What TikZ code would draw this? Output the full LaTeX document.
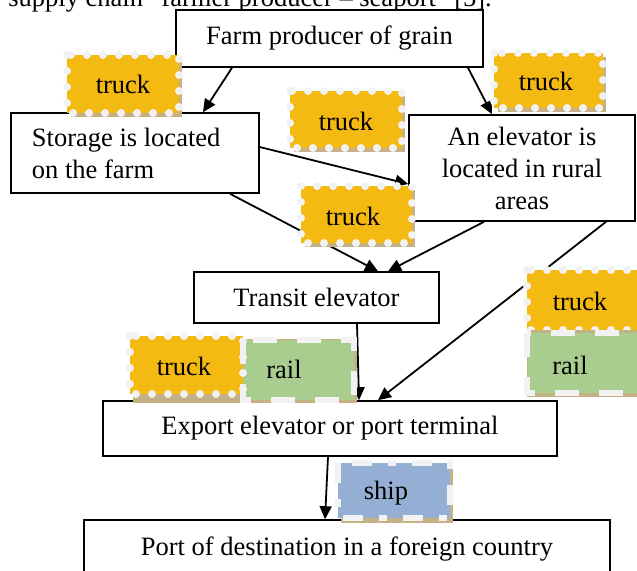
\documentclass[tikz,border=0pt]{standalone}
\usepackage{fontspec}
\setmainfont{Liberation Serif}
\usetikzlibrary{arrows.meta}
\definecolor{truckfill}{HTML}{F5BA12}
\definecolor{railfill}{HTML}{A9CD8E}
\definecolor{shipfill}{HTML}{94AED4}
\definecolor{shadowtan}{HTML}{C4B284}
\definecolor{dotwhite}{HTML}{F2F2F2}
\tikzset{
  box/.style={draw=black, line width=0.8pt, fill=white, inner sep=0pt,
    font=\fontsize{13.25}{16}\selectfont},
  conn/.style={line width=0.9pt, -{Triangle[length=6.5pt,width=6pt]}},
  modetext/.style={font=\fontsize{13.25}{16}\selectfont, inner sep=0pt},
  dotborder/.style={draw=dotwhite, line width=4pt, line cap=round,
    dash pattern=on 0pt off 8pt},
  dashborder/.style={draw=dotwhite, line width=3.4pt, line cap=butt,
    dash pattern=on 12pt off 10pt},
}
\begin{document}
\begin{tikzpicture}[x=0.5pt,y=-0.5pt]
\useasboundingbox (0,0) rectangle (637,570);
\fill[white] (0,0) rectangle (637,570);

% caption line (cut at top)
\node[anchor=base west, modetext] (cap) at (8,6) {supply chain “farmer producer – seaport” [5].};

% main boxes
\node[box, minimum width=153.5pt, minimum height=28.5pt] (farm) at (329.5,38.5) {Farm producer of grain};
\node[box, minimum width=124pt, minimum height=40pt, text width=103pt, align=flush left, inner xsep=10.5pt] (storage) at (135,153) {Storage is located\\on the farm};
\node[box, minimum width=113pt, minimum height=53pt, align=center] (elev) at (522,168) {An elevator is\\located in rural\\areas};
\node[box, minimum width=122.5pt, minimum height=25.5pt] (transit) at (316.5,297.5) {Transit elevator};
\node[box, minimum width=227pt, minimum height=27.5pt] (export) at (330,428.5) {Export elevator or port terminal};
\node[box, minimum width=263pt, minimum height=29pt] (port) at (347,549) {Port of destination in a foreign country};

% connectors
\draw[conn] (232,0 |- farm.south) -- (203,0 |- storage.north);
\draw[conn] (468,0 |- farm.south) -- (492,0 |- elev.north);
\draw[conn] (storage.east |- 0,147) -- (elev.west |- 0,184);
\draw[conn] (230,0 |- storage.south) -- (378,0 |- transit.north);
\draw[conn] (484,0 |- elev.south) -- (388,0 |- transit.north);
\draw[conn] (606,0 |- elev.south) -- (378,0 |- export.north);
\draw[conn] (357,0 |- transit.south) -- (359,0 |- export.north);
\draw[conn] (328,0 |- export.south) -- (325,0 |- port.north);

% transport mode boxes: shadow + fill
\foreach \nm/\xa/\ya/\xb/\yb/\col in {
  t1/67/55/179/113/truckfill, t2/290/91/402/148/truckfill,
  t3/494/53/603/108/truckfill, t4/301/186/412/243/truckfill,
  t6/527/270/645/330/truckfill}{
  \fill[shadowtan] (\xa+4,\ya+4) rectangle (\xb+3,\yb+4);
  \fill[\col] (\xa,\ya) rectangle (\xb,\yb);
  \draw[dotborder] (\xa,\ya) rectangle (\xb,\yb);
}
% rail under right truck
\fill[shadowtan] (527,330) rectangle (648,397);
\fill[railfill] (528,333) rectangle (645,393);
\draw[dashborder] (527,333) rectangle (645,393);
% truck + rail row
\fill[shadowtan] (133,339) rectangle (357,403);
\fill[truckfill] (130,336) rectangle (243,394);
\fill[railfill] (243,340) rectangle (354,400);
\draw[dotborder] (130,336) rectangle (243,394);
\draw[dashborder] (243,340) rectangle (354,400);
% ship
\fill[shadowtan] (341,466) rectangle (453,523);
\fill[shipfill] (338,463) rectangle (450,518);
\draw[dashborder, dash pattern=on 10pt off 8pt on 4pt off 8pt] (338,463) rectangle (450,518);

% labels of mode boxes
\node[modetext] (t1) at (123,84) {truck};
\node[modetext] (t2) at (346,121) {truck};
\node[modetext] (t3) at (546,81) {truck};
\node[modetext] (t4) at (353,216) {truck};
\node[modetext] (t5) at (184,366) {truck};
\node[modetext] (r5) at (284,369) {rail};
\node[modetext] (t6) at (580,301) {truck};
\node[modetext] (r6) at (570,365) {rail};
\node[modetext] (ship) at (386,493) {ship};
\end{tikzpicture}
\end{document}
